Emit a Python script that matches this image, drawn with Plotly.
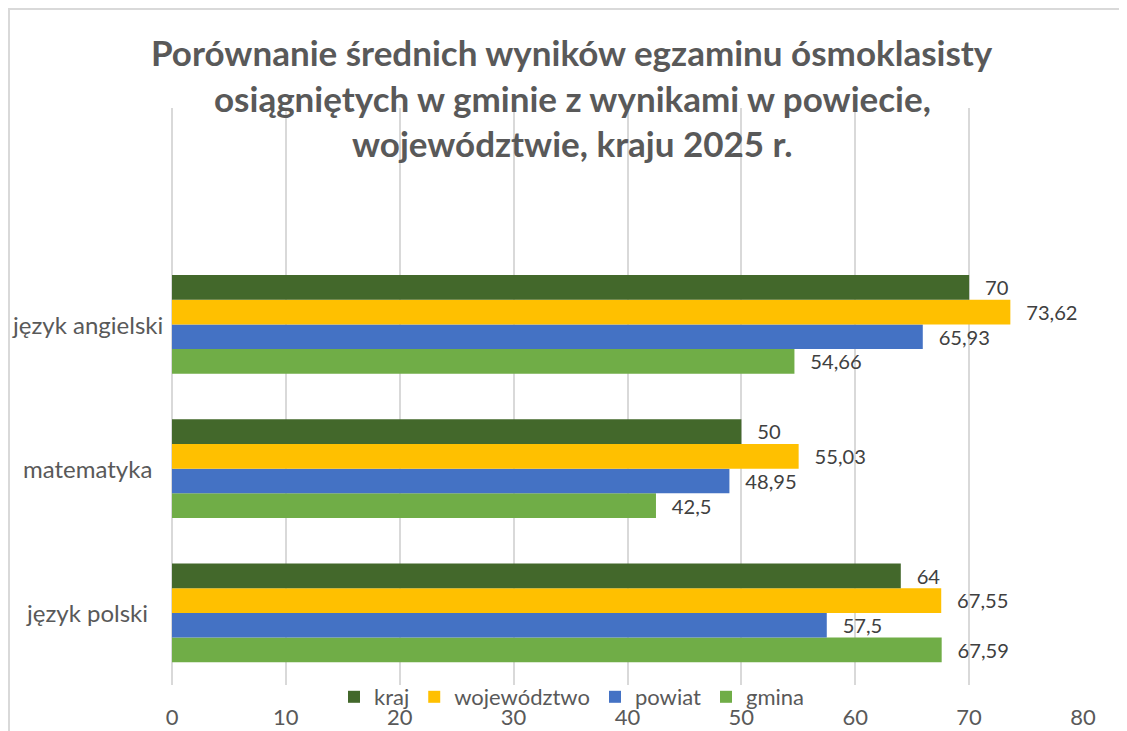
import plotly.graph_objects as go

categories = ["język polski", "matematyka", "język angielski"]
series_names = ["kraj", "województwo", "powiat", "gmina"]
kraj = [64, 50, 70]
wojewodztwo = [67.55, 55.03, 73.62]
powiat = [57.5, 48.95, 65.93]
gmina = [67.59, 42.5, 54.66]
colors = {"kraj": "#43682B", "województwo": "#FFC000", "powiat": "#4472C4", "gmina": "#70AD47"}
x_ticks = [0, 10, 20, 30, 40, 50, 60, 70, 80]
title_lines = [
    "Porównanie średnich wyników egzaminu ósmoklasisty",
    "osiągniętych w gminie z wynikami w powiecie,",
    "województwie, kraju 2025 r.",
]

values = {"kraj": kraj, "województwo": wojewodztwo, "powiat": powiat, "gmina": gmina}
ypos = list(range(len(categories)))
FONT = "Lato"

def fmt(v):
    return "\u00a0\u00a0\u2009" + f"{v:g}".replace(".", ",")

fig = go.Figure()
for name in reversed(series_names):
    vals = values[name]
    fig.add_trace(go.Bar(
        y=ypos, x=vals, orientation="h", name=name,
        marker=dict(color=colors[name], line=dict(width=0)),
        text=[fmt(v) for v in vals], textposition="outside",
        textfont=dict(family=FONT, size=22, color="#404040"),
        cliponaxis=False,
    ))

# page has an 8px body margin: work in reference pixels minus 8
OFF = 8
W, H = 1127 - OFF, 731 - OFF
L = 172 - OFF
T = 108 - OFF
R = W - (1083 - OFF)
B = H - (685 - OFF)
pw, ph = W - L - R, H - T - B

def py2p(py):
    return (H - B - (py - OFF)) / ph

def px2p(px):
    return ((px - OFF) - L) / pw

annotations = []
for line, py in zip(title_lines, [52, 98, 143]):
    annotations.append(dict(
        text=line, xref="paper", yref="paper",
        x=px2p(572), y=py2p(py),
        xanchor="center", yanchor="middle", showarrow=False,
        font=dict(family=FONT, size=35, color="#595959", weight=700),
    ))
for cat, yv in zip(categories, ypos):
    annotations.append(dict(
        text=cat, xref="paper", yref="y", x=px2p(87), y=yv,
        xanchor="center", yanchor="middle", showarrow=False,
        font=dict(family=FONT, size=24, color="#595959"),
    ))

fig.update_layout(
    width=W, height=H,
    margin=dict(l=L, r=R, t=T, b=B, autoexpand=False),
    paper_bgcolor="white", plot_bgcolor="white",
    barmode="group", bargap=0.314, bargroupgap=0,
    showlegend=True,
    legend=dict(orientation="h", x=px2p(572), xanchor="center",
                y=py2p(697), yanchor="middle",
                traceorder="reversed",
                font=dict(family=FONT, size=22, color="#595959"),
                bgcolor="rgba(0,0,0,0)"),
    annotations=annotations,
    shapes=[dict(type="rect", xref="paper", yref="paper",
                 x0=px2p(OFF + 1), x1=px2p(1140),
                 y0=py2p(745), y1=py2p(OFF + 1),
                 line=dict(color="#D9D9D9", width=2), layer="below")],
    font=dict(family=FONT, color="#595959"),
)
fig.update_xaxes(range=[0, 80], tickvals=x_ticks, showgrid=True,
                 gridcolor="#D9D9D9", gridwidth=1.5, zeroline=True,
                 zerolinecolor="#D9D9D9", zerolinewidth=1.5, showline=False,
                 tickfont=dict(family=FONT, size=22, color="#595959"),
                 ticklabelstandoff=17)
fig.update_yaxes(range=[-0.5, 3.5], tickvals=ypos, ticktext=["", "", ""],
                 showgrid=False, zeroline=False, showline=False)

fig.write_html("out.html")
